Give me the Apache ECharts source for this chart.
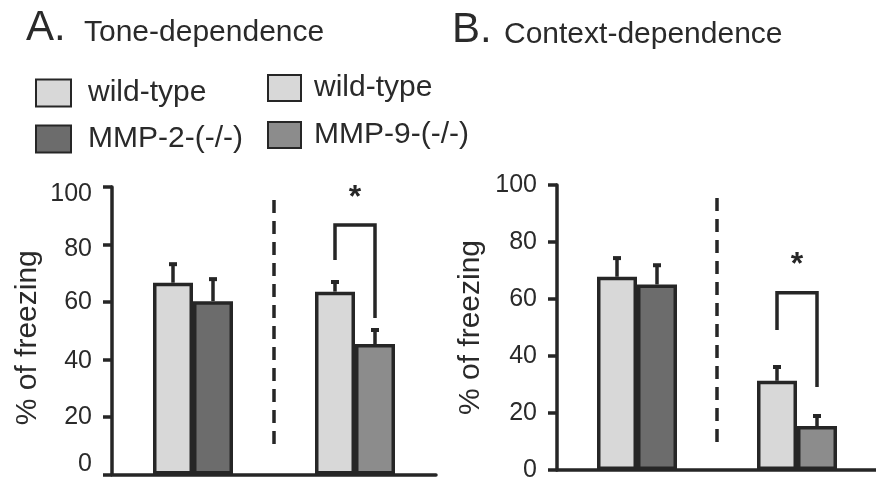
<!DOCTYPE html>
<html>
<head>
<meta charset="utf-8">
<script src="https://cdn.jsdelivr.net/npm/echarts@6/dist/echarts.min.js"></script>
<style>
html,body{margin:0;padding:0;background:#fff;}
#chart{width:876px;height:477px;}
</style>
</head>
<body>
<div id="chart"></div>
<script>
// ---- data ----
const categories = ['MMP-2 experiment', 'MMP-9 experiment'];
const yTicks = [0, 20, 40, 60, 80, 100];

const toneWildType = [66.7, 63.6];
const toneWildTypeSem = [6.8, 3.7];
const toneMMP2 = [60.3, '-'];
const toneMMP9 = ['-', 45.4];
const toneKnockoutSem = [8.0, 5.2];
const toneBracket = [74.6, 86.8, 54.4]; // left leg bottom, bracket top, right leg bottom
const toneStar = 99;
const toneDivider = [9.9, 95.5];

const contextWildType = [67.8, 31.3];
const contextWildTypeSem = [6.9, 5.2];
const contextMMP2 = [65.1, '-'];
const contextMMP9 = ['-', 15.4];
const contextKnockoutSem = [7.1, 3.9];
const contextBracket = [49.1, 62.2, 29.1];
const contextStar = 74.7;
const contextDivider = [8.8, 95.4];

// ---- style ----
const INK = '#262626';
const TXT = '#2a2a2a';
const FONT = 'Liberation Sans, Arial, Helvetica, sans-serif';
const LW = 3.5;
const BAR_W = 40;
const C_WT = '#d8d8d8';
const C_M2 = '#6c6c6c';
const C_M9 = '#8c8c8c';

const chart = echarts.init(document.getElementById('chart'));

function knockoutValues(m2, m9) {
  return m2.map((v, i) => (v === '-' ? m9[i] : v));
}

function barSeries(g, name, data, color) {
  return {
    type: 'bar', name: name, xAxisIndex: g, yAxisIndex: g, data: data,
    stack: name === 'wild-type' ? undefined : 'ko' + g,
    barWidth: BAR_W, barGap: '0%',
    itemStyle: { color: color, borderColor: INK, borderWidth: LW },
    emphasis: { disabled: true }, z: 2
  };
}

function errSeries(g, means, sems, side) {
  return {
    type: 'custom', xAxisIndex: g, yAxisIndex: g, z: 4, silent: true,
    data: means.map((m, i) => [i, m, m + sems[i]]),
    encode: { x: 0, y: [1, 2] },
    renderItem: function (params, api) {
      const c = api.coord([api.value(0), api.value(1)]);
      const t = api.coord([api.value(0), api.value(2)]);
      const x = c[0] + side * BAR_W / 2;
      return {
        type: 'group', children: [
          { type: 'line', shape: { x1: x, y1: c[1], x2: x, y2: t[1] }, style: { stroke: INK, lineWidth: LW } },
          { type: 'rect', shape: { x: x - 4, y: t[1] - 1, width: 8, height: 4 }, style: { fill: INK } }
        ]
      };
    }
  };
}

function bracketSeries(g, br, star) {
  return {
    type: 'custom', xAxisIndex: g, yAxisIndex: g, z: 4, silent: true,
    data: [[1, br[0], br[1], br[2], star]],
    encode: { x: 0, y: [1, 2, 3, 4] },
    renderItem: function (params, api) {
      const cat = api.value(0);
      const cx = api.coord([cat, 0])[0];
      const xl = cx - BAR_W / 2, xr = cx + BAR_W / 2;
      const y0 = api.coord([cat, api.value(1)])[1];
      const y1 = api.coord([cat, api.value(2)])[1];
      const y2 = api.coord([cat, api.value(3)])[1];
      const ys = api.coord([cat, api.value(4)])[1];
      return {
        type: 'group', children: [
          { type: 'polyline', shape: { points: [[xl, y0], [xl, y1], [xr, y1], [xr, y2]] },
            style: { stroke: INK, lineWidth: LW, fill: null } },
          { type: 'text', x: cx, y: ys + 8,
            style: { text: '*', font: 'bold 32px ' + FONT, fill: INK, align: 'center', verticalAlign: 'middle' } }
        ]
      };
    }
  };
}

function dividerSeries(g, d) {
  return {
    type: 'custom', xAxisIndex: g, yAxisIndex: g, z: 4, silent: true,
    data: [[0, d[0], d[1]]],
    encode: { x: 0, y: [1, 2] },
    renderItem: function (params, api) {
      const x = (api.coord([0, 0])[0] + api.coord([1, 0])[0]) / 2;
      const ya = api.coord([0, api.value(1)])[1];
      const yb = api.coord([0, api.value(2)])[1];
      return { type: 'line', shape: { x1: x, y1: yb, x2: x, y2: ya },
        style: { stroke: INK, lineWidth: LW, lineDash: [13, 8] } };
    }
  };
}

function xAxis(g) {
  return {
    type: 'category', gridIndex: g, data: categories,
    axisLine: { show: true, lineStyle: { color: INK, width: LW } },
    axisTick: { show: false }, axisLabel: { show: false }, splitLine: { show: false }
  };
}

// small vertical nudges of tick labels (style only), as in the scanned figure
const leftLabelNudge = { 100: 7, 80: 5, 60: 0, 40: 2, 20: 0, 0: -10 };
function nudgeRich(nudge) {
  const rich = {};
  Object.keys(nudge).forEach(k => {
    const d = nudge[k];
    rich['n' + k] = { fontSize: 25, fontFamily: FONT, color: TXT,
      padding: d >= 0 ? [2 * d, 0, 0, 0] : [0, 0, -2 * d, 0] };
  });
  return rich;
}

function yAxis(g, gap, namePad, nudge) {
  const axisLabel = { fontSize: 25, fontFamily: FONT, color: TXT, margin: 20 };
  if (nudge) {
    axisLabel.formatter = v => '{n' + v + '|' + v + '}';
    axisLabel.rich = nudgeRich(nudge);
  }
  return {
    type: 'value', gridIndex: g, min: yTicks[0], max: yTicks[yTicks.length - 1], interval: 20,
    name: '% of freezing', nameLocation: 'middle', nameRotate: 90, nameGap: gap,
    nameTextStyle: { fontSize: 30, fontFamily: FONT, color: TXT, padding: namePad },
    axisLine: { show: true, lineStyle: { color: INK, width: LW } },
    axisTick: { show: true, length: 9, lineStyle: { color: INK, width: LW } },
    axisLabel: axisLabel,
    splitLine: { show: false }
  };
}

const legendText = { fontSize: 30, fontFamily: FONT, color: TXT };

chart.setOption({
  animation: false,
  title: [
    { text: 'A.', left: 26, top: 7, padding: 0, textStyle: { fontSize: 42, fontWeight: 'normal', fontFamily: FONT, color: TXT } },
    { text: 'Tone-dependence', left: 84, top: 18, padding: 0, textStyle: { fontSize: 30, fontWeight: 'normal', fontFamily: FONT, color: TXT } },
    { text: 'B.', left: 452, top: 9, padding: 0, textStyle: { fontSize: 42, fontWeight: 'normal', fontFamily: FONT, color: TXT } },
    { text: 'Context-dependence', left: 504, top: 20, padding: 0, textStyle: { fontSize: 30, fontWeight: 'normal', fontFamily: FONT, color: TXT } }
  ],
  legend: [
    { data: ['wild-type', 'MMP-2-(-/-)'], orient: 'vertical', left: 35, top: 78, padding: 0,
      itemWidth: 35, itemHeight: 27, itemGap: 16, icon: 'rect', selectedMode: false,
      textStyle: Object.assign({ padding: [0, 0, 0, 12] }, legendText) },
    { data: ['wild-type', 'MMP-9-(-/-)'], orient: 'vertical', left: 267, top: 73, padding: 0,
      itemWidth: 33, itemHeight: 26, itemGap: 17, icon: 'rect', selectedMode: false,
      textStyle: Object.assign({ padding: [0, 0, 0, 8] }, legendText) }
  ],
  grid: [
    { left: 112, top: 187, width: 324, height: 287.5, outerBoundsMode: 'none' },
    { left: 557, top: 185, width: 320, height: 285, outerBoundsMode: 'none' }
  ],
  xAxis: [xAxis(0), xAxis(1)],
  yAxis: [yAxis(0, 69, [0, 14, 0, 0], leftLabelNudge), yAxis(1, 71, [0, 0, 0, 0], null)],
  series: [
    barSeries(0, 'wild-type', toneWildType, C_WT),
    barSeries(0, 'MMP-2-(-/-)', toneMMP2, C_M2),
    barSeries(0, 'MMP-9-(-/-)', toneMMP9, C_M9),
    errSeries(0, toneWildType, toneWildTypeSem, -1),
    errSeries(0, knockoutValues(toneMMP2, toneMMP9), toneKnockoutSem, 1),
    bracketSeries(0, toneBracket, toneStar),
    dividerSeries(0, toneDivider),
    barSeries(1, 'wild-type', contextWildType, C_WT),
    barSeries(1, 'MMP-2-(-/-)', contextMMP2, C_M2),
    barSeries(1, 'MMP-9-(-/-)', contextMMP9, C_M9),
    errSeries(1, contextWildType, contextWildTypeSem, -1),
    errSeries(1, knockoutValues(contextMMP2, contextMMP9), contextKnockoutSem, 1),
    bracketSeries(1, contextBracket, contextStar),
    dividerSeries(1, contextDivider)
  ]
});
</script>
</body>
</html>
